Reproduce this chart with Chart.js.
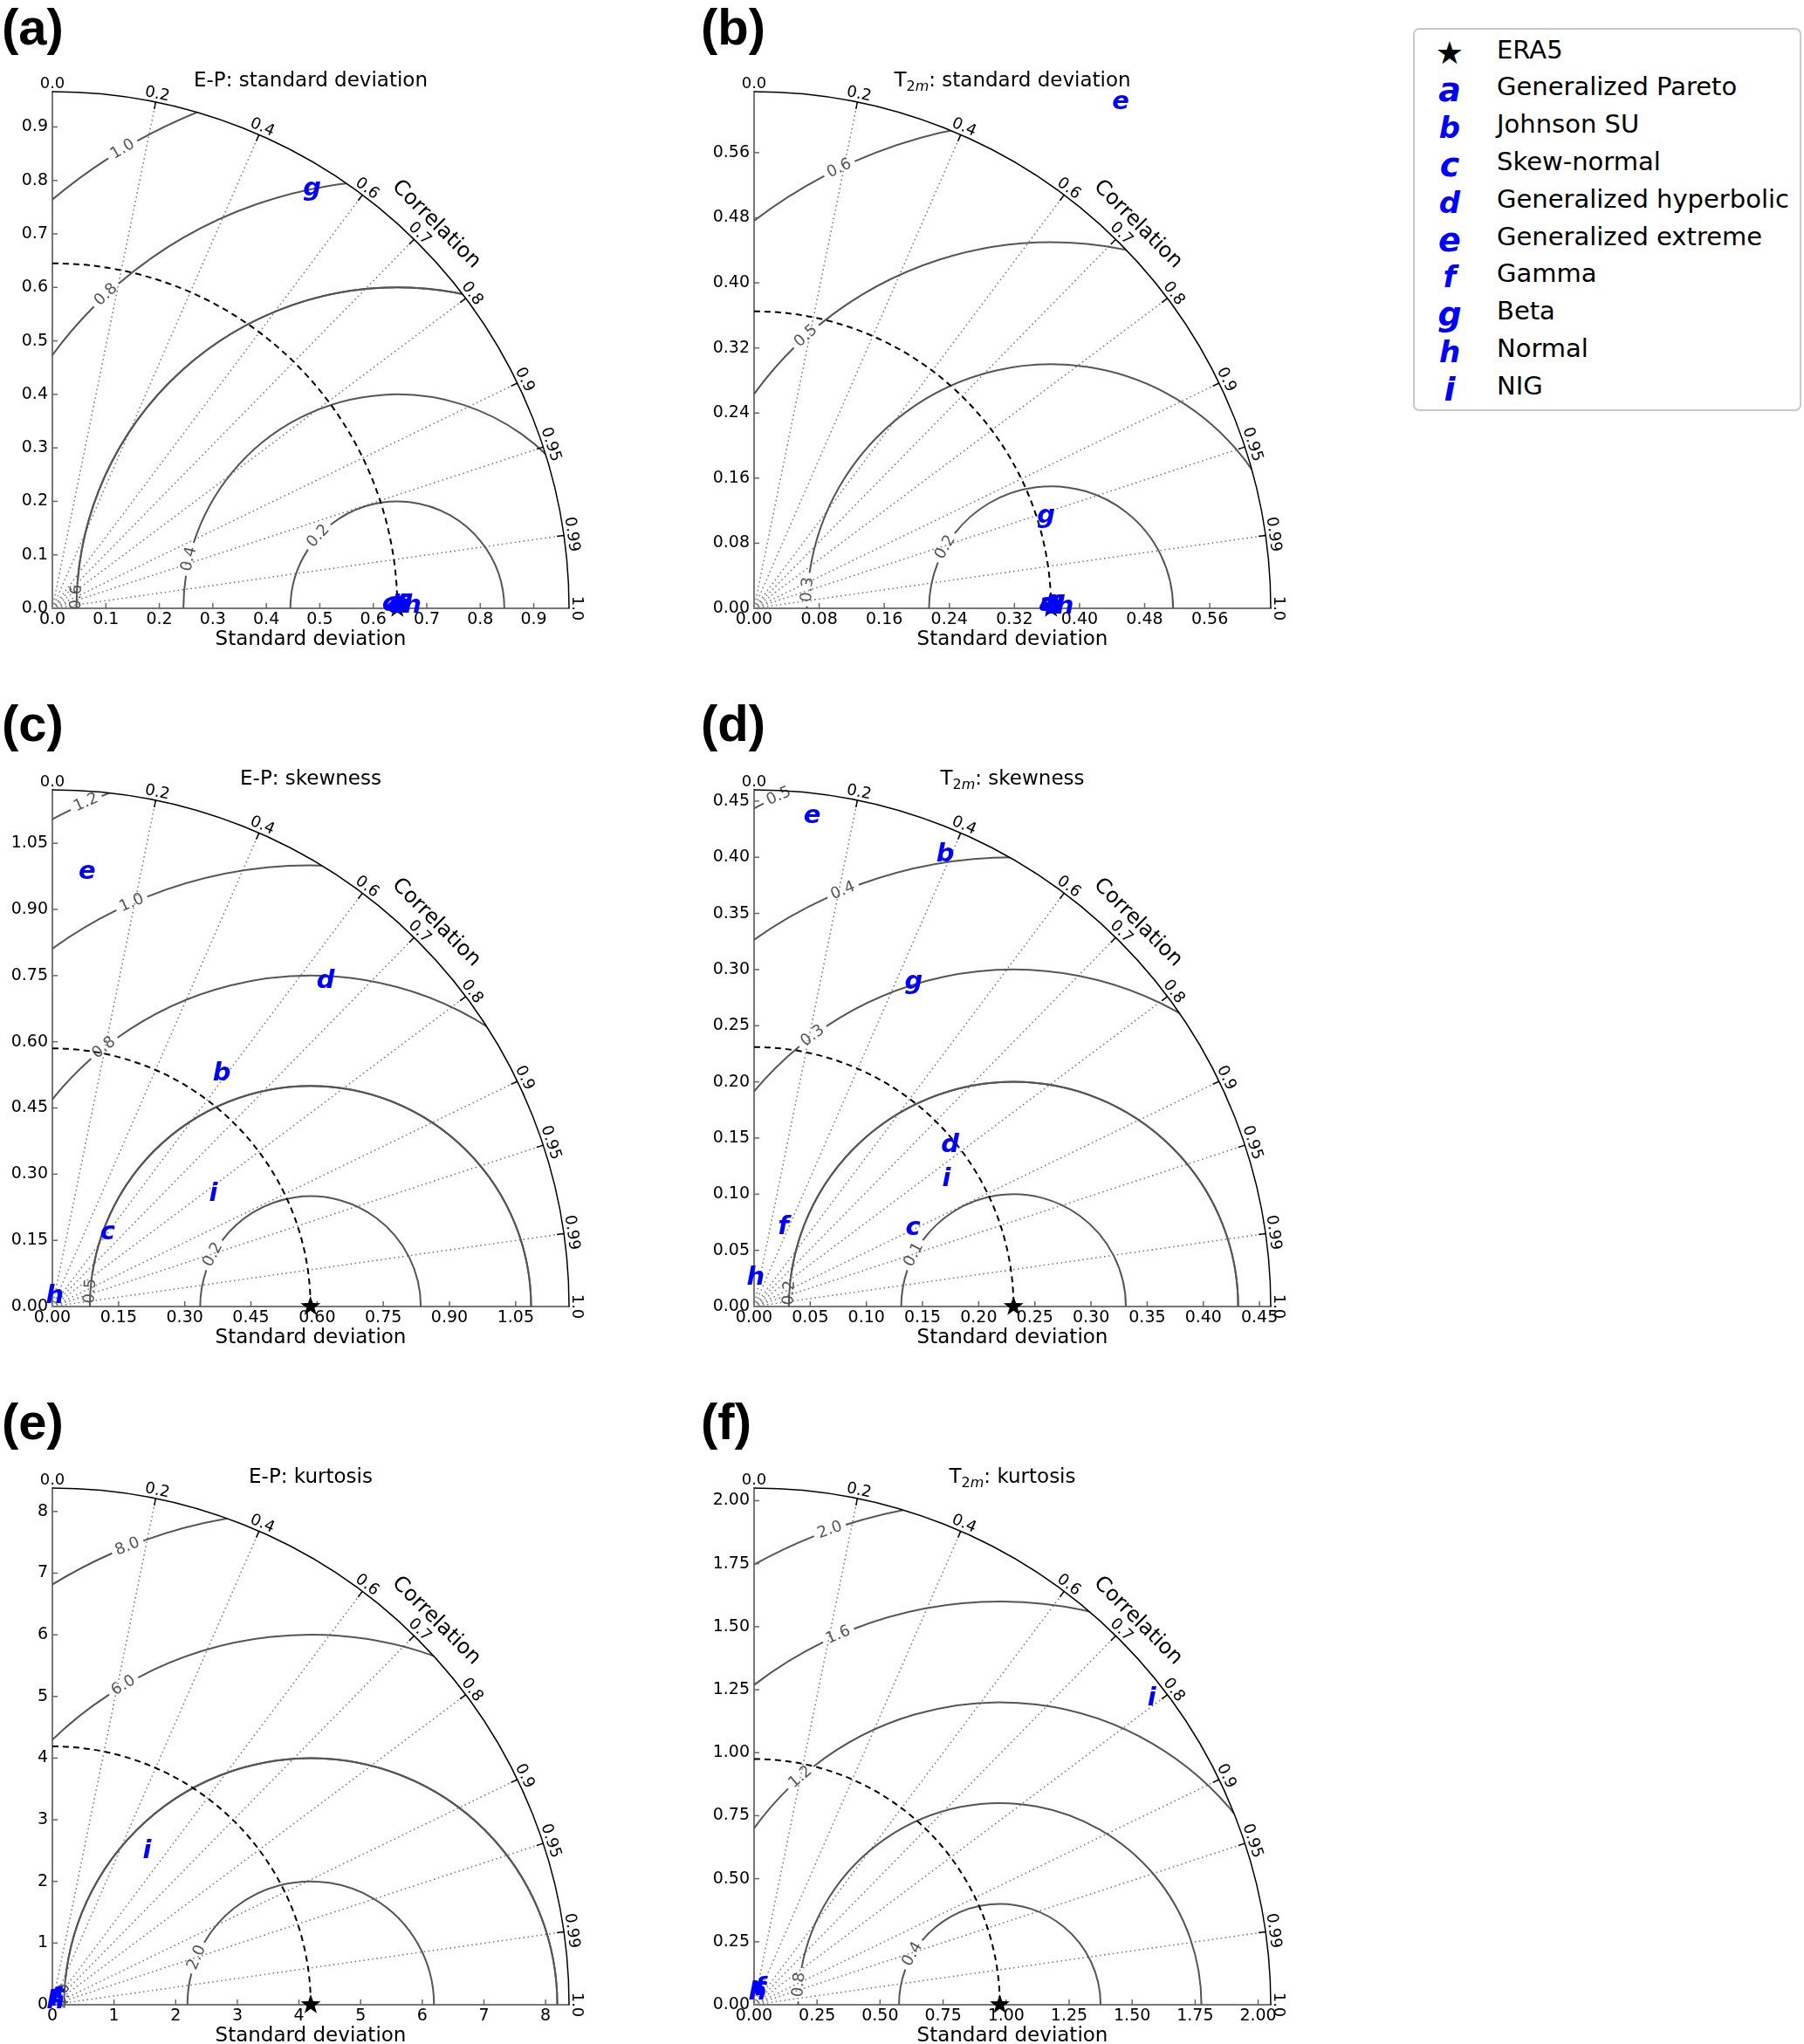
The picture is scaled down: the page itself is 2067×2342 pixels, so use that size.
<!DOCTYPE html>
<html>
<head>
<meta charset="utf-8">
<script src="https://cdn.jsdelivr.net/npm/chart.js@4.4.1/dist/chart.umd.min.js"></script>
<style>
  body { margin: 0; background: #fff; }
  #page { position: relative; width: 2067px; height: 2342px; overflow: hidden; background: #fff; }
  #page canvas { position: absolute; }
  .plabel { position: absolute; transform: translateY(-50%); line-height: 1;
            font: bold 58px 'Liberation Sans Narrow', 'Liberation Sans', Arial, sans-serif; color: #000; }
  #legend { position: absolute; left: 1619px; top: 32px; width: 441px; height: 435px;
            border: 2px solid #c8c8c8; border-radius: 7px; background: #fff; }
  #legend .row { position: absolute; left: 0; height: 42.8px; line-height: 42.8px; width: 100%; }
  #legend .mk { position: absolute; left: 16px; width: 48px; text-align: center;
                font-family: 'DejaVu Sans', sans-serif; font-weight: bold; font-style: italic; color: #0000ff; }
  #legend .txt { position: absolute; left: 94px; font: 29px 'DejaVu Sans', sans-serif; color: #000; white-space: nowrap; }
</style>
</head>
<body>
<div id="page"></div>
<script>
// ---- data ----
const panelTags = ['(a)', '(b)', '(c)', '(d)', '(e)', '(f)'];
const panelTitles = ['E-P: standard deviation', 'T2m: standard deviation', 'E-P: skewness',
                     'T2m: skewness', 'E-P: kurtosis', 'T2m: kurtosis'];
const refStd = [0.645, 0.365, 0.585, 0.231, 4.19, 0.975];   // ERA5
const maxStd = [0.966, 0.635, 1.171, 0.46, 8.38, 2.05];
const stdTicks = [
  [0, 0.1, 0.2, 0.3, 0.4, 0.5, 0.6, 0.7, 0.8, 0.9],
  [0, 0.08, 0.16, 0.24, 0.32, 0.40, 0.48, 0.56],
  [0, 0.15, 0.30, 0.45, 0.60, 0.75, 0.90, 1.05],
  [0, 0.05, 0.10, 0.15, 0.20, 0.25, 0.30, 0.35, 0.40, 0.45],
  [0, 1, 2, 3, 4, 5, 6, 7, 8],
  [0, 0.25, 0.50, 0.75, 1.00, 1.25, 1.50, 1.75, 2.00]
];
const tickDecimals = [1, 2, 2, 2, 0, 2];
const corrTicks = [0, 0.2, 0.4, 0.6, 0.7, 0.8, 0.9, 0.95, 0.99, 1];
const corrTickLabels = ['0.0', '0.2', '0.4', '0.6', '0.7', '0.8', '0.9', '0.95', '0.99', '1.0'];
const rmsLevels = [
  [0.2, 0.4, 0.6, 0.8, 1.0],
  [0.15, 0.3, 0.45, 0.6],
  [0.25, 0.5, 0.75, 1.0, 1.25],
  [0.1, 0.2, 0.3, 0.4, 0.5],
  [2, 4, 6, 8],
  [0.4, 0.8, 1.2, 1.6, 2.0]
];
const rmsLabels = [
  ['0.2', '0.4', '0.6', '0.8', '1.0'],
  ['0.2', '0.3', '0.5', '0.6'],
  ['0.2', '0.5', '0.8', '1.0', '1.2'],
  ['0.1', '0.2', '0.3', '0.4', '0.5'],
  ['2.0', '4.0', '6.0', '8.0'],
  ['0.4', '0.8', '1.2', '1.6', '2.0']
];
const models = ['a', 'b', 'c', 'd', 'e', 'f', 'g', 'h', 'i'];
const modelNames = ['Generalized Pareto', 'Johnson SU', 'Skew-normal', 'Generalized hyperbolic',
                    'Generalized extreme', 'Gamma', 'Beta', 'Normal', 'NIG'];
// std and correlation of each model, per panel (null = not shown)
const stdA  = [0.640, 0.650, 0.631, 0.645, 0.648, 0.655, 0.919, 0.672, 0.660];
const corrA = [0.9999, 0.9999, 0.9999, 0.9999, 0.9999, 0.9999, 0.528, 0.9999, 0.9999];
const stdB  = [0.360, 0.368, 0.361, 0.370, 0.768, 0.372, 0.375, 0.381, 0.366];
const corrB = [0.9999, 0.9999, 0.9999, 0.9999, 0.587, 0.9999, 0.956, 0.9999, 0.9999];
const stdC  = [null, 0.657, 0.211, 0.968, 0.989, null, null, 0.030, 0.449];
const corrC = [null, 0.583, 0.598, 0.641, 0.080, null, null, 0.130, 0.815];
const stdD  = [null, 0.439, 0.158, 0.228, 0.440, 0.078, 0.320, 0.028, 0.207];
const corrD = [null, 0.387, 0.897, 0.768, 0.118, 0.355, 0.443, 0.025, 0.830];
const stdE  = [null, null, 0.184, null, null, 0.157, null, 0.108, 2.966];
const corrE = [null, null, 0.490, null, null, 0.447, null, 0.371, 0.520];
const stdF  = [null, null, 0.070, null, null, 0.081, null, 0.061, 2.000];
const corrF = [null, null, 0.359, null, null, 0.371, null, 0.164, 0.790];
const panelStd = [stdA, stdB, stdC, stdD, stdE, stdF];
const panelCorr = [corrA, corrB, corrC, corrD, corrE, corrF];

// ---- layout ----
const plotPx = 592;
const originX = [60, 864, 60, 864, 60, 864];
const originY = [697, 697, 1497, 1497, 2297, 2297];
const tagPos = [[2, 30], [803, 30], [2, 828], [803, 828], [2, 1628], [803, 1628]];
const rmsLabelAngle = [
  [137.6, 166.7, 178, 132.9, 120.9],
  [150, 175.6, 132, 115.7],
  [152, 176, 128.6, 113.9, 114],
  [152.5, 176.5, 126.6, 112.3, 114.7],
  [157.5, 178, 120.4, 111.8],
  [150, 174.3, 131.2, 113.6, 109.7]
];
const FONT = '"DejaVu Sans", sans-serif';
const padL = 4, padR = 70, padT = 64, yAxisW = 56, xAxisH = 50;

const page = document.getElementById('page');

function drawLetter(ctx, ch, x, y, size) {
  ctx.save();
  ctx.font = 'italic bold ' + size + 'px ' + FONT;
  ctx.fillStyle = '#0000ff';
  ctx.textAlign = 'left';
  ctx.textBaseline = 'alphabetic';
  const m = ctx.measureText(ch);
  const dx = (m.actualBoundingBoxRight - m.actualBoundingBoxLeft) / 2;
  const dy = (m.actualBoundingBoxDescent - m.actualBoundingBoxAscent) / 2;
  ctx.fillText(ch, x - dx, y - dy);
  ctx.restore();
}

function drawStar(ctx, x, y, r) {
  ctx.save();
  ctx.fillStyle = '#000';
  ctx.beginPath();
  for (let k = 0; k < 10; k++) {
    const a = -Math.PI / 2 + k * Math.PI / 5;
    const rr = k % 2 === 0 ? r : r * 0.4;
    const px = x + rr * Math.cos(a), py = y + rr * Math.sin(a);
    if (k === 0) ctx.moveTo(px, py); else ctx.lineTo(px, py);
  }
  ctx.closePath();
  ctx.fill();
  ctx.restore();
}

function drawTitle(ctx, text, cx, cy) {
  const big = '23px ' + FONT, small = '16px ' + FONT, smallIt = 'italic 16px ' + FONT;
  let parts = [[text, big, 0]];
  if (text.startsWith('T2m')) {
    parts = [['T', big, 0], ['2', small, 5], ['m', smallIt, 5], [text.slice(3), big, 0]];
  }
  ctx.save();
  ctx.fillStyle = '#000';
  ctx.textAlign = 'left';
  ctx.textBaseline = 'alphabetic';
  let w = 0;
  parts.forEach(p => { ctx.font = p[1]; w += ctx.measureText(p[0]).width; });
  let x = cx - w / 2;
  parts.forEach(p => {
    ctx.font = p[1];
    ctx.fillText(p[0], x, cy + 8 + p[2]);
    x += ctx.measureText(p[0]).width;
  });
  ctx.restore();
}

function makeTaylor(i) {
  return {
    id: 'taylor' + i,
    beforeDatasetsDraw(chart) {
      const ctx = chart.ctx, xs = chart.scales.x, ys = chart.scales.y;
      const R = maxStd[i], ref = refStd[i];
      const ox = xs.getPixelForValue(0), oy = ys.getPixelForValue(0);
      const kx = xs.getPixelForValue(1) - ox, ky = oy - ys.getPixelForValue(1);
      const P = (u, v) => [xs.getPixelForValue(u), ys.getPixelForValue(v)];
      ctx.save();

      // dotted correlation rays
      ctx.strokeStyle = '#808080';
      ctx.lineWidth = 1.6;
      ctx.setLineDash([1.6, 3.4]);
      corrTicks.forEach(c => {
        if (c <= 0 || c >= 1) return;
        const t = Math.acos(c);
        const [x1, y1] = P(R * Math.cos(t), R * Math.sin(t));
        ctx.beginPath(); ctx.moveTo(ox, oy); ctx.lineTo(x1, y1); ctx.stroke();
      });
      ctx.setLineDash([]);

      // centred RMS difference contours, clipped to the quarter disc
      const [cx, cy] = P(ref, 0);
      ctx.save();
      ctx.beginPath();
      ctx.moveTo(ox, oy);
      ctx.ellipse(ox, oy, R * kx, R * ky, 0, -Math.PI / 2, 0);
      ctx.closePath();
      ctx.clip();
      ctx.strokeStyle = '#555';
      ctx.lineWidth = 2;
      ctx.font = '18px ' + FONT;
      rmsLevels[i].forEach((L, k) => {
        const phi = rmsLabelAngle[i][k] * Math.PI / 180;
        const w = ctx.measureText(rmsLabels[i][k]).width;
        const gap = (w / 2 + 5) / (L * kx);
        ctx.beginPath();
        ctx.ellipse(cx, cy, L * kx, L * ky, 0, -Math.PI, -(phi + gap));
        ctx.stroke();
        ctx.beginPath();
        ctx.ellipse(cx, cy, L * kx, L * ky, 0, -(phi - gap), 0);
        ctx.stroke();
      });
      ctx.restore();

      ctx.font = '18px ' + FONT;
      ctx.fillStyle = '#555';
      ctx.textAlign = 'center';
      ctx.textBaseline = 'middle';
      rmsLevels[i].forEach((L, k) => {
        const phi = rmsLabelAngle[i][k] * Math.PI / 180;
        const [lx, ly] = P(ref + L * Math.cos(phi), L * Math.sin(phi));
        ctx.save();
        ctx.translate(lx, ly);
        ctx.rotate(-(phi - Math.PI / 2));
        ctx.fillText(rmsLabels[i][k], 0, 0);
        ctx.restore();
      });

      // reference (ERA5) std arc
      ctx.strokeStyle = '#000';
      ctx.lineWidth = 2;
      ctx.setLineDash([7, 5]);
      ctx.beginPath();
      ctx.ellipse(ox, oy, ref * kx, ref * ky, 0, -Math.PI / 2, 0);
      ctx.stroke();
      ctx.setLineDash([]);

      // outer arc with correlation ticks and labels
      ctx.lineWidth = 1.5;
      ctx.beginPath();
      ctx.ellipse(ox, oy, R * kx, R * ky, 0, -Math.PI / 2, 0);
      ctx.stroke();
      ctx.fillStyle = '#000';
      ctx.font = '18px ' + FONT;
      corrTicks.forEach((c, k) => {
        const t = Math.acos(c);
        const ux = Math.cos(t), uy = Math.sin(t);
        const ex = ox + R * kx * ux, ey = oy - R * ky * uy;
        if (c > 0 && c < 1) {
          ctx.beginPath(); ctx.moveTo(ex, ey); ctx.lineTo(ex - 8 * ux, ey + 8 * uy); ctx.stroke();
        }
        ctx.save();
        ctx.translate(ex + 9 * ux, ey - 9 * uy);
        ctx.rotate(Math.PI / 2 - t);
        ctx.fillText(corrTickLabels[k], 0, 0);
        ctx.restore();
      });
      ctx.font = '24px ' + FONT;
      const tc = Math.PI / 4;
      ctx.save();
      ctx.translate(ox + (R * kx + 30) * Math.cos(tc), oy - (R * ky + 30) * Math.sin(tc));
      ctx.rotate(Math.PI / 2 - tc);
      ctx.fillText('Correlation', 0, 0);
      ctx.restore();

      // inward ticks on the std axes
      ctx.strokeStyle = '#666';
      ctx.lineWidth = 1.5;
      stdTicks[i].forEach(v => {
        if (v === 0) return;
        const x = xs.getPixelForValue(v), y = ys.getPixelForValue(v);
        ctx.beginPath(); ctx.moveTo(x, oy); ctx.lineTo(x, oy - 6); ctx.stroke();
        ctx.beginPath(); ctx.moveTo(ox, y); ctx.lineTo(ox + 6, y); ctx.stroke();
      });

      drawTitle(ctx, panelTitles[i], ox + R * kx / 2, oy - R * ky - 14);
      ctx.restore();
    },
    afterDatasetsDraw(chart) {
      const ctx = chart.ctx;
      chart.data.datasets.forEach((ds, di) => {
        const meta = chart.getDatasetMeta(di);
        meta.data.forEach((el, k) => {
          const pt = ds.data[k];
          if (pt.letter) drawLetter(ctx, pt.letter, el.x, el.y, 29);
          else drawStar(ctx, el.x, el.y, 12);
        });
      });
    }
  };
}

for (let i = 0; i < 6; i++) {
  const canvas = document.createElement('canvas');
  const W = padL + yAxisW + plotPx + padR, H = padT + plotPx + xAxisH;
  canvas.width = W;
  canvas.height = H;
  canvas.style.left = (originX[i] - padL - yAxisW) + 'px';
  canvas.style.top = (originY[i] - padT - plotPx) + 'px';
  canvas.style.width = W + 'px';
  canvas.style.height = H + 'px';
  page.appendChild(canvas);

  const std = panelStd[i], corr = panelCorr[i];
  const pts = models.map((m, k) => std[k] == null ? null : {
    x: std[k] * corr[k],
    y: std[k] * Math.sqrt(1 - corr[k] * corr[k]),
    letter: m
  }).filter(Boolean);
  const dec = tickDecimals[i];
  const tickFont = { family: FONT, size: 19 };

  new Chart(canvas, {
    type: 'scatter',
    data: {
      datasets: [
        { label: 'ERA5', data: [{ x: refStd[i], y: 0 }], pointRadius: 0, pointHoverRadius: 0 },
        { label: 'models', data: pts, pointRadius: 0, pointHoverRadius: 0 }
      ]
    },
    options: {
      responsive: false,
      animation: false,
      devicePixelRatio: 1,
      events: [],
      layout: { padding: { left: padL, right: padR, top: padT, bottom: 0 } },
      plugins: { legend: { display: false }, tooltip: { enabled: false } },
      scales: {
        x: {
          type: 'linear', min: 0, max: maxStd[i],
          grid: { display: false, drawTicks: false },
          border: { display: true, color: '#777', width: 2 },
          ticks: { font: tickFont, color: '#000', padding: 2, autoSkip: false, maxRotation: 0,
                   callback: v => Number(v).toFixed(dec) },
          title: { display: true, text: 'Standard deviation', color: '#000',
                   font: { family: FONT, size: 23 }, padding: 0 },
          afterBuildTicks: s => { s.ticks = stdTicks[i].map(v => ({ value: v })); },
          afterFit: s => { s.height = xAxisH; }
        },
        y: {
          type: 'linear', min: 0, max: maxStd[i],
          grid: { display: false, drawTicks: false },
          border: { display: true, color: '#777', width: 2 },
          ticks: { font: tickFont, color: '#000', padding: 5, autoSkip: false,
                   callback: v => Number(v).toFixed(dec) },
          afterBuildTicks: s => { s.ticks = stdTicks[i].map(v => ({ value: v })); },
          afterFit: s => { s.width = yAxisW; }
        }
      }
    },
    plugins: [makeTaylor(i)]
  });

  const tag = document.createElement('div');
  tag.className = 'plabel';
  tag.textContent = panelTags[i];
  tag.style.left = tagPos[i][0] + 'px';
  tag.style.top = tagPos[i][1] + 'px';
  page.appendChild(tag);
}

// legend
const legend = document.createElement('div');
legend.id = 'legend';
const entries = [['\u2605', 'ERA5']].concat(models.map((m, k) => [m, modelNames[k]]));
entries.forEach((e, k) => {
  const row = document.createElement('div');
  row.className = 'row';
  row.style.top = (27 + k * 42.8 - 21.4) + 'px';
  const mk = document.createElement('span');
  mk.className = 'mk';
  mk.textContent = e[0];
  if (k === 0) { mk.style.color = '#000'; mk.style.fontStyle = 'normal'; mk.style.fontWeight = 'normal'; mk.style.fontSize = '36px'; }
  else mk.style.fontSize = ('acegi'.includes(e[0]) ? 38 : 34) + 'px';
  const txt = document.createElement('span');
  txt.className = 'txt';
  txt.textContent = e[1];
  row.appendChild(mk);
  row.appendChild(txt);
  legend.appendChild(row);
});
page.appendChild(legend);
</script>
</body>
</html>
